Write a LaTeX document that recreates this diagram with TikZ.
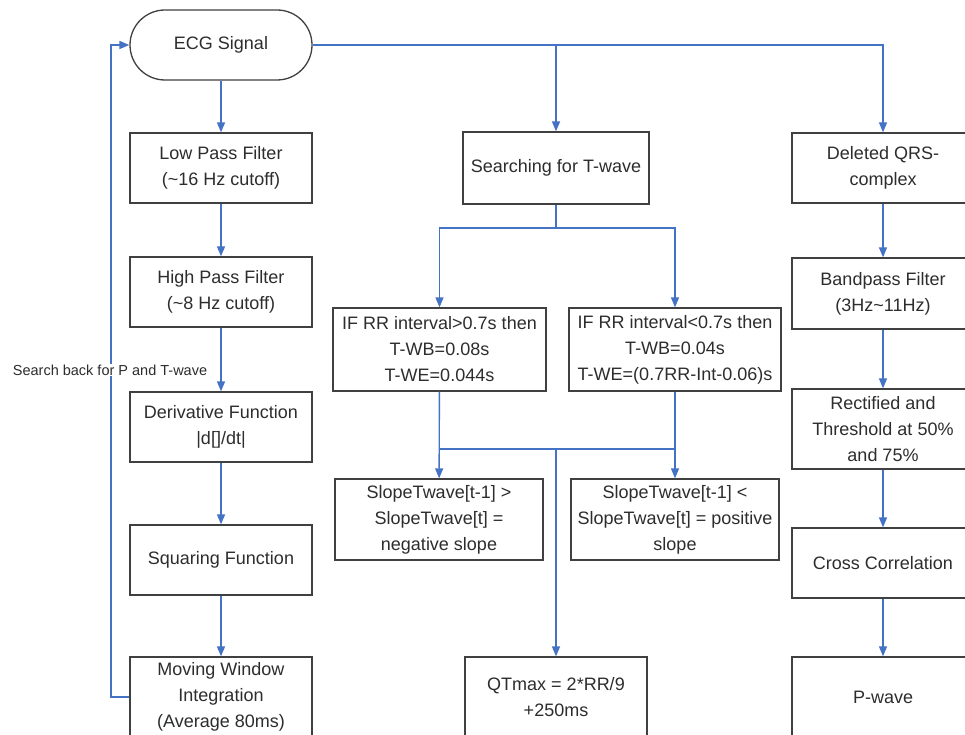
\documentclass[tikz,border=0pt]{standalone}
\usepackage{fontspec}
\setmainfont{Liberation Sans}
\usetikzlibrary{arrows.meta}
\definecolor{conncol}{RGB}{68,114,196}
\definecolor{boxcol}{RGB}{64,64,64}
\definecolor{txtcol}{RGB}{45,45,45}
\tikzset{
  box/.style={draw=boxcol, line width=1.3pt, fill=white, inner sep=0pt,
    minimum width=182pt, minimum height=70pt, align=center, text=txtcol,
    font=\fontsize{18}{26}\selectfont},
  conn/.style={draw=conncol, line width=1.4pt},
  arr/.style={conn, -{Triangle[length=10pt,width=8pt]}},
  lbl/.style={fill=white, inner sep=1pt, text=txtcol, font=\fontsize{14.5}{17}\selectfont}
}
\begin{document}
\begin{tikzpicture}[x=1pt,y=-1pt]
\useasboundingbox (0,0) rectangle (965,735);
\clip (0,0) rectangle (965,735);
\fill[white] (0,0) rectangle (965,735);
% left column
\node[box, rounded corners=35pt] (ecg) at (221,45) {ECG Signal};
\node[box] (lp) at (221,168) {Low Pass Filter\\(\textasciitilde16 Hz cutoff)};
\node[box] (hp) at (221,292) {High Pass Filter\\(\textasciitilde8 Hz cutoff)};
\node[box] (der) at (221,427) {Derivative Function\\|d[]/dt|};
\node[box] (sq) at (221,560) {Squaring Function};
\node[box, minimum height=80pt] (mw) at (221,697) {Moving Window\\Integration\\(Average 80ms)};
% middle column
\node[box, minimum width=186pt, minimum height=72pt] (srch) at (556,168) {Searching for T-wave};
\node[box, minimum width=213pt, minimum height=83pt] (if1) at (439.5,349.5) {IF RR interval>0.7s then\\T-WB=0.08s\\T-WE=0.044s};
\node[box, minimum width=212pt, minimum height=83pt] (if2) at (675,349.5) {IF RR interval<0.7s then\\T-WB=0.04s\\T-WE=(0.7RR-Int-0.06)s};
\node[box, minimum width=208pt, minimum height=81pt] (sl1) at (439,519.5) {SlopeTwave[t-1] >\\SlopeTwave[t] =\\negative slope};
\node[box, minimum width=208pt, minimum height=81pt] (sl2) at (675,519.5) {SlopeTwave[t-1] <\\SlopeTwave[t] = positive\\slope};
\node[box, minimum height=80pt] (qt) at (556,697) {QTmax = 2*RR/9\\+250ms};
% right column
\node[box] (del) at (883,168) {Deleted QRS-\\complex};
\node[box, minimum height=71pt] (bp) at (883,293.5) {Bandpass Filter\\(3Hz\textasciitilde11Hz)};
\node[box, minimum height=80pt] (rect) at (883,429) {Rectified and\\Threshold at 50\%\\and 75\%};
\node[box] (cc) at (883,563) {Cross Correlation};
\node[box, minimum height=80pt] (pw) at (883,697) {P-wave};
% coordinates
\coordinate (fb) at (111,45);
\coordinate (j1) at (556,228);
\coordinate (j2) at (556,449);
% connectors left
\draw[arr] (ecg) -- (lp);
\draw[arr] (lp) -- (hp);
\draw[arr] (hp) -- (der);
\draw[arr] (der) -- (sq);
\draw[arr] (sq) -- (mw);
\draw[arr] (mw.west) -| (fb) -- (ecg.west);
\node[lbl] (sb) at (110,370) {Search back for P and T-wave};
% top
\draw[arr] (ecg.east) -| (del);
\draw[arr] (ecg.east -| srch) -- (srch);
% middle
\draw[conn] (srch) -- (j1);
\draw[arr] (j1) -| (if1);
\draw[arr] (j1) -| (if2);
\draw[arr] (if1) -- (sl1);
\draw[arr] (if2) -- (sl2);
\draw[conn] (if1.south |- j2) -- (if2.south |- j2);
\draw[arr] (j2) -- (qt);
% right
\draw[arr] (del) -- (bp);
\draw[arr] (bp) -- (rect);
\draw[arr] (rect) -- (cc);
\draw[arr] (cc) -- (pw);
\end{tikzpicture}
\end{document}
